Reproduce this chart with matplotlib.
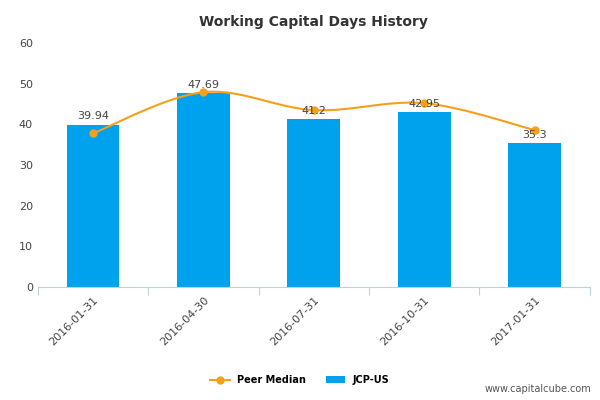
import numpy as np
import matplotlib
matplotlib.use("Agg")
import matplotlib.pyplot as plt

dates = ["2016-01-31", "2016-04-30", "2016-07-31", "2016-10-31", "2017-01-31"]
jcp = [39.94, 47.69, 41.2, 42.95, 35.3]
jcp_labels = ["39.94", "47.69", "41.2", "42.95", "35.3"]
peer = [37.8, 47.9, 43.5, 45.2, 38.6]

BAR = "#00a2ed"
PEER = "#f5a01a"


def catmull(xs, ys, n=30):
    # glatte Kurve durch die Punkte (Catmull-Rom)
    px = np.r_[xs[0], xs, xs[-1]]
    py = np.r_[ys[0], ys, ys[-1]]
    ox, oy = [], []
    for i in range(1, len(px) - 2):
        t = np.linspace(0, 1, n)
        for p, o in ((px, ox), (py, oy)):
            p0, p1, p2, p3 = p[i - 1], p[i], p[i + 1], p[i + 2]
            o.extend(0.5 * (2 * p1 + (-p0 + p2) * t + (2 * p0 - 5 * p1 + 4 * p2 - p3) * t**2
                            + (-p0 + 3 * p1 - 3 * p2 + p3) * t**3))
    return np.array(ox), np.array(oy)


fig = plt.figure(figsize=(6, 4), dpi=100)
ax = fig.add_axes([0.063, 0.2825, 0.92, 0.61])
x = np.arange(len(dates))

ax.bar(x, jcp, width=0.48, color=BAR, label="JCP-US", zorder=2)
for xi, v, lab in zip(x, jcp, jcp_labels):
    ax.text(xi, v + 0.8, lab, ha="center", va="bottom", fontsize=8, color="#444444", zorder=4)

sx, sy = catmull(x.astype(float), np.array(peer))
ax.plot(sx, sy, color=PEER, lw=1.5, zorder=3)
ax.plot(x, peer, "o", color=PEER, ms=5, zorder=3)
ax.plot([], [], "-o", color=PEER, ms=5, lw=1.5, label="Peer Median")

ax.set_xlim(-0.5, len(dates) - 0.5)
ax.set_ylim(0, 60)
ax.set_yticks(range(0, 61, 10))
ax.set_xticks(x - 0.5, minor=False)
ax.set_xticks(np.append(x - 0.5, len(dates) - 0.5))
ax.set_xticklabels([])
ax.set_xticks(x, minor=True)
ax.set_xticklabels(dates, minor=True, rotation=45, ha="right", rotation_mode="anchor",
                   fontsize=8, color="#444444")
ax.tick_params(axis="x", which="minor", length=0, pad=6)
ax.tick_params(axis="x", which="major", length=6, color="#c0d0e0")
ax.tick_params(axis="y", length=0, labelsize=8, labelcolor="#444444")
for s in ["top", "right", "left"]:
    ax.spines[s].set_visible(False)
ax.spines["bottom"].set_color("#c0d0e0")

ax.set_title("Working Capital Days History", fontsize=10, fontweight="bold",
             color="#333333", pad=12)

fig.legend(loc="lower center", bbox_to_anchor=(0.5, 0.015), ncol=2, frameon=False,
           prop={"size": 7, "weight": "bold"}, handlelength=2, columnspacing=2)
fig.text(0.985, 0.015, "www.capitalcube.com", ha="right", va="bottom", fontsize=7, color="#555555")

fig.savefig("out.png", dpi=100)
